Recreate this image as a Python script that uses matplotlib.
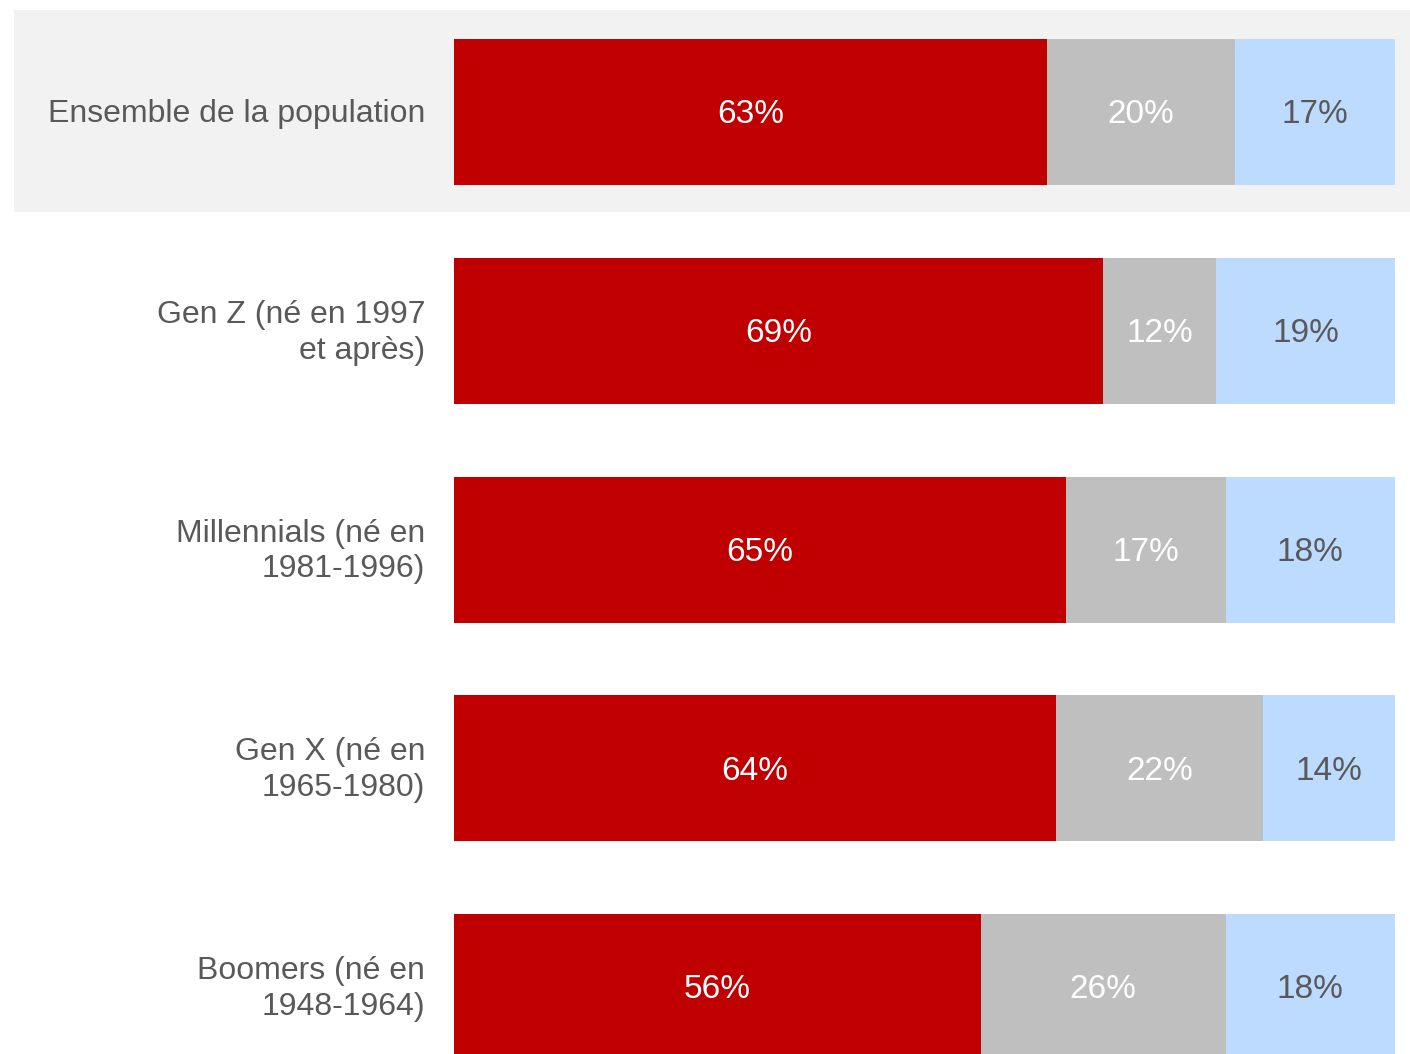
import numpy as np
import matplotlib.pyplot as plt
from matplotlib.patches import Rectangle

# categories, top to bottom
groups = ["Ensemble de la population",
          "Gen Z (né en 1997\net après)",
          "Millennials (né en\n1981-1996)",
          "Gen X (né en\n1965-1980)",
          "Boomers (né en\n1948-1964)"]
part_red = [63, 69, 65, 64, 56]
part_grey = [20, 12, 17, 22, 26]
part_blue = [17, 19, 18, 14, 18]

colors = ["#C00000", "#BFBFBF", "#BDDAFF"]
label_colors = ["white", "white", "#595959"]
text_grey = "#595959"

plt.rcParams['font.family'] = ['Liberation Sans', 'DejaVu Sans']

W, H = 1410, 1054
fig = plt.figure(figsize=(W/100, H/100), dpi=100)

#Axes placed so that 0-100% spans the bar area
ax = fig.add_axes([454/W, 0, (1395-454)/W, 1])
ax.patch.set_visible(False)
row_px = 218.75
ax.set_xlim(0, 100)
ax.set_ylim((H-112)/row_px, -112/row_px)
ax.axis('off')

#Highlight band behind first row
fig.add_artist(Rectangle((14/W, 1-212/H), (W-14)/W, 202/H, transform=fig.transFigure,
                         facecolor="#F2F2F2", edgecolor="none", zorder=-1))

fs = 23
y = np.arange(len(groups))
left = np.zeros(len(groups))
for vals, c, lc in zip([part_red, part_grey, part_blue], colors, label_colors):
    vals = np.array(vals)
    ax.barh(y, vals, left=left, height=146/row_px, color=c, edgecolor="none")
    for yi, l, v in zip(y, left, vals):
        ax.annotate(f"{v}%", xy=(l + v/2, yi), xytext=(0, -2), textcoords='offset points',
                    ha='center', va='center', color=lc, fontsize=24)
    left = left + vals

for yi, g in zip(y, groups):
    ax.annotate(g, xy=(0, yi), xytext=(-29*0.72, -1.5), textcoords='offset points',
                ha='right', va='center', multialignment='right', color=text_grey,
                fontsize=fs, linespacing=1.25)

fig.savefig('out.png', dpi=100)
